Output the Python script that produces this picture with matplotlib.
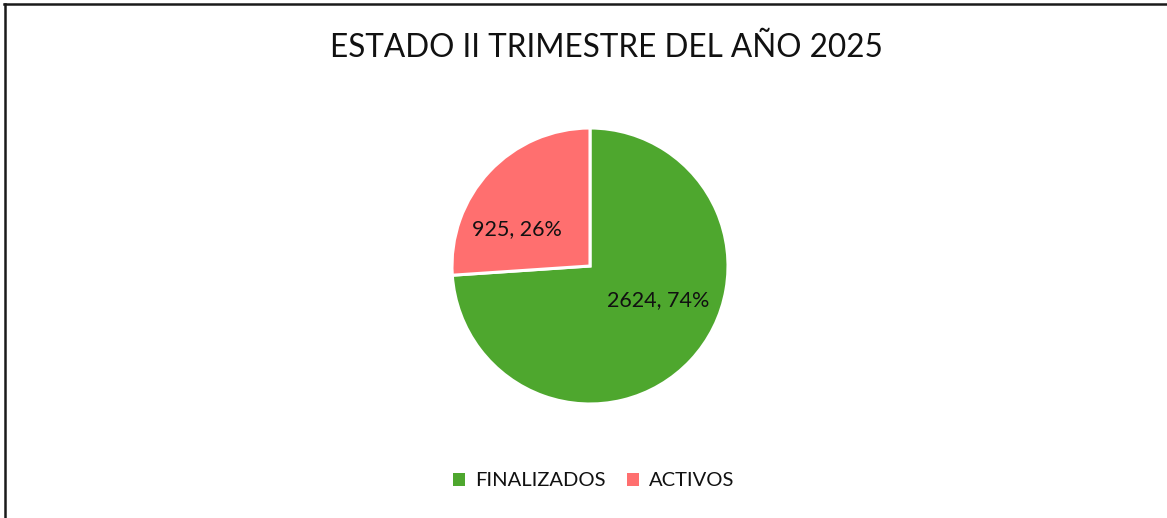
import matplotlib.pyplot as plt
from matplotlib.patches import Patch
from matplotlib.lines import Line2D
import numpy as np

categorias = ["FINALIZADOS", "ACTIVOS"]
valores = [2624, 925]
colores = ["#4EA72E", "#FF6F6F"]
titulo = "ESTADO II TRIMESTRE DEL AÑO 2025"

plt.rcParams['font.family'] = ['Lato', 'DejaVu Sans']

W, H = 1167, 518
fig = plt.figure(figsize=(W / 100, H / 100), dpi=100)
fig.patch.set_facecolor("white")

# pie area: center (590, 266) px, radius 138 px
cx, cy, r = 590, 266, 138
ax = fig.add_axes([(cx - r) / W, (H - cy - r) / H, 2 * r / W, 2 * r / H])
wedges, _ = ax.pie(valores, colors=colores, startangle=90, counterclock=False,
                   wedgeprops=dict(edgecolor="white", linewidth=2.2),
                   radius=1.0)
ax.set_xlim(-1, 1)
ax.set_ylim(-1, 1)
ax.set_aspect("equal")
ax.axis("off")

# etiquetas de datos (valor, porcentaje)
total = sum(valores)
pos_etq = [(-26.6, 0.55), (153.1, 0.59)]  # angulo, distancia relativa
for v, (ang, d) in zip(valores, pos_etq):
    a = np.deg2rad(ang)
    ax.text(d * np.cos(a), d * np.sin(a), f"{v}, {round(100 * v / total)}%",
            ha="center", va="center", fontsize=15.5, color="#111111")

fig.text(606 / W, 1 - 48 / H, titulo, ha="center", va="center",
         fontsize=22.7, color="#111111")

handles = [Patch(facecolor=c, edgecolor="none") for c in colores]
fig.legend(handles, categorias, loc="center", bbox_to_anchor=(594 / W, 1 - 481 / H),
           ncol=2, frameon=False, fontsize=14.5, handlelength=0.6, handleheight=0.6,
           handletextpad=0.5, columnspacing=1.05, labelcolor="#111111")

# borde del grafico (solo izquierda y arriba visibles)
fig.add_artist(Line2D([5 / W, 5 / W], [0, 1 - 3.5 / H], color="#1a1a1a", linewidth=1.8))
fig.add_artist(Line2D([4 / W, 1], [1 - 3.5 / H, 1 - 3.5 / H], color="#1a1a1a", linewidth=1.8))

fig.savefig("out.png", dpi=100)
